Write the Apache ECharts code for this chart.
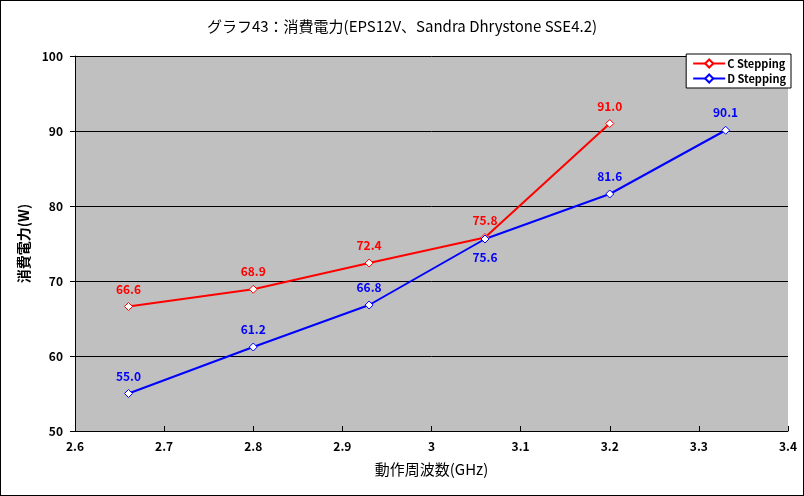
<!DOCTYPE html>
<html><head><meta charset="utf-8">
<script src="https://cdn.jsdelivr.net/npm/echarts@6/dist/echarts.min.js"></script>
<style>html,body{margin:0;padding:0;background:#fff}#c{width:804px;height:496px;box-sizing:border-box;border:1px solid #000}</style>
</head><body><div id="c"></div>
<script>
const cFreq = [2.66, 2.8, 2.93, 3.06, 3.2];
const cPower = [66.6, 68.9, 72.4, 75.8, 91.0];
const dFreq = [2.66, 2.8, 2.93, 3.06, 3.2, 3.33];
const dPower = [55.0, 61.2, 66.8, 75.6, 81.6, 90.1];
const seriesNames = ['C Stepping', 'D Stepping'];
const title = 'グラフ43：消費電力(EPS12V、Sandra Dhrystone SSE4.2)';
const xName = '動作周波数(GHz)';
const yName = '消費電力(W)';

const font = '"Noto Sans CJK JP", "DejaVu Sans", sans-serif';
const chart = echarts.init(document.getElementById('c'), null, {renderer: 'canvas'});
function pts(xs, ys, belowIdx) {
  return xs.map((x, i) => {
    const o = {value: [x, ys[i]]};
    if (belowIdx.includes(i)) o.label = {position: 'bottom', distance: 8};
    return o;
  });
}
chart.setOption({
  animation: false,
  backgroundColor: '#fff',
  title: {text: title, left: 'center', top: 13,
    textStyle: {fontFamily: font, fontSize: 15, fontWeight: 'normal', color: '#000'}},
  legend: {
    right: 12, top: 53, orient: 'vertical', backgroundColor: '#fff', borderColor: '#000', borderWidth: 1,
    padding: [4, 5, 4, 6], itemGap: 4, itemWidth: 32, itemHeight: 10,
    textStyle: {fontFamily: font, fontSize: 11, fontWeight: 'bold', color: '#000', padding: [0,0,0,-3]},
    data: seriesNames
  },
  grid: {left: 74, right: 15, top: 55, bottom: 64, show: true, backgroundColor: '#c0c0c0', borderWidth: 0},
  xAxis: {
    type: 'value', min: 2.6, max: 3.4, interval: 0.1,
    name: xName, nameLocation: 'middle', nameGap: 31,
    nameTextStyle: {fontFamily: font, fontSize: 15, color: '#000'},
    axisLine: {show: true, onZero: false, lineStyle: {color: '#000', width: 1}},
    axisTick: {show: true, inside: true, length: 5, lineStyle: {color: '#000'}},
    axisLabel: {fontFamily: font, fontSize: 12, fontWeight: 'bold', color: '#000', margin: 9,
      formatter: v => String(Math.round(v * 10) / 10)},
    splitLine: {show: false}
  },
  yAxis: {
    type: 'value', min: 50, max: 100, interval: 10,
    name: yName, nameLocation: 'middle', nameGap: 40, nameRotate: 90,
    nameTextStyle: {fontFamily: font, fontSize: 14, fontWeight: 'bold', color: '#000'},
    axisLine: {show: true, lineStyle: {color: '#000', width: 1}},
    axisTick: {show: true, inside: false, length: 5, lineStyle: {color: '#000'}},
    axisLabel: {fontFamily: font, fontSize: 12, fontWeight: 'bold', color: '#000', margin: 12},
    splitLine: {show: true, lineStyle: {color: '#000', width: 1}}
  },
  series: [
    {name: seriesNames[0], type: 'line', data: pts(cFreq, cPower, []),
     color: '#ff0000', lineStyle: {color: '#ff0000', width: 2},
     symbol: 'diamond', symbolSize: 8, itemStyle: {color: '#fff', borderColor: '#ff0000', borderWidth: 1},
     label: {show: true, position: 'top', distance: 7, color: '#ff0000', fontFamily: font, fontSize: 12, fontWeight: 'bold',
       formatter: p => p.value[1].toFixed(1)}},
    {name: seriesNames[1], type: 'line', data: pts(dFreq, dPower, [3]),
     color: '#0000ff', lineStyle: {color: '#0000ff', width: 2},
     symbol: 'diamond', symbolSize: 8, itemStyle: {color: '#fff', borderColor: '#0000ff', borderWidth: 1},
     label: {show: true, position: 'top', distance: 7, color: '#0000ff', fontFamily: font, fontSize: 12, fontWeight: 'bold',
       formatter: p => p.value[1].toFixed(1)}}
  ]
});
</script></body></html>
